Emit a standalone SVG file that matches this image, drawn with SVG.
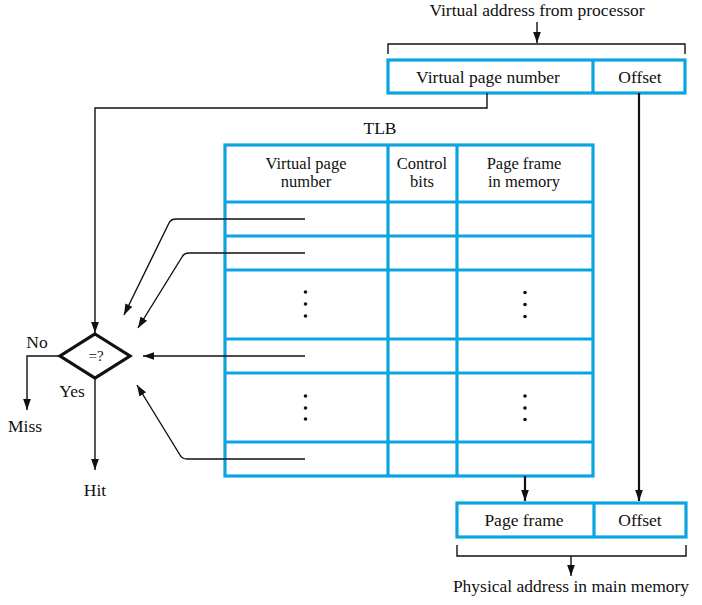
<svg xmlns="http://www.w3.org/2000/svg" width="702" height="605" viewBox="0 0 702 605">
<style>
text{font-family:"Liberation Serif","Times New Roman",serif;font-size:17.5px;fill:#111;text-anchor:middle}
.h{font-size:16.5px}
.b{fill:#fff;stroke:#0aa5e0;stroke-width:3.2}
.bl{stroke:#0aa5e0;stroke-width:3.2;fill:none}
.c{stroke:#111;stroke-width:1.4;fill:none}
.ca{stroke:#111;stroke-width:1.4;fill:none;marker-end:url(#ah)}
.ct{stroke:#111;stroke-width:2.2;fill:none;marker-end:url(#ah)}
.d{fill:#111}
</style>
<defs>
<marker id="ah" viewBox="0 0 10 10" refX="10" refY="5" markerWidth="11" markerHeight="11" markerUnits="userSpaceOnUse" orient="auto">
<path d="M0,1.5 L10,5 L0,8.5 Z" fill="#111"/>
</marker>
</defs>
<g id="virtual-address">
<text x="537" y="16">Virtual address from processor</text>
<path class="c" d="M388,54 V44 H685 V54"/>
<rect class="b" x="388" y="60" width="297" height="33"/>
<line class="bl" x1="593" y1="60" x2="593" y2="93"/>
<text x="488" y="83">Virtual page number</text>
<text x="640" y="83">Offset</text>
</g>
<g id="tlb">
<text x="380" y="134">TLB</text>
<rect class="b" x="225" y="145" width="368" height="331"/>
<path class="bl" d="M225,202 H593 M225,236 H593 M225,270 H593 M225,339 H593 M225,373 H593 M225,442 H593 M388,145 V476 M457,145 V476"/>
<text class="h" x="306" y="169">Virtual page</text>
<text class="h" x="306" y="187">number</text>
<text class="h" x="422" y="169">Control</text>
<text class="h" x="422" y="187">bits</text>
<text class="h" x="524" y="169">Page frame</text>
<text class="h" x="524" y="187">in memory</text>
<circle class="d" cx="305.5" cy="292" r="1.8"/><circle class="d" cx="305.5" cy="304" r="1.8"/><circle class="d" cx="305.5" cy="316" r="1.8"/>
<circle class="d" cx="525" cy="292.5" r="1.8"/><circle class="d" cx="525" cy="304.5" r="1.8"/><circle class="d" cx="525" cy="316.5" r="1.8"/>
<circle class="d" cx="305.5" cy="396" r="1.8"/><circle class="d" cx="305.5" cy="408" r="1.8"/><circle class="d" cx="305.5" cy="419" r="1.8"/>
<circle class="d" cx="525" cy="396" r="1.8"/><circle class="d" cx="525" cy="408" r="1.8"/><circle class="d" cx="525" cy="419.5" r="1.8"/>
</g>
<g id="compare">
<polygon points="95,334 130,356 95,378 60,356" fill="#fff" stroke="#111" stroke-width="3.2"/>
<text x="96" y="361" style="font-size:15px">=?</text>
<text x="37" y="348">No</text>
<text x="72" y="397">Yes</text>
<text x="25" y="432">Miss</text>
<text x="95" y="496">Hit</text>
</g>
<g id="physical-address">
<rect class="b" x="457" y="503" width="229" height="34"/>
<line class="bl" x1="594" y1="503" x2="594" y2="537"/>
<text x="524" y="526">Page frame</text>
<text x="640" y="526">Offset</text>
<path class="c" d="M457,545 V556 H686 V545"/>
<text x="571" y="592">Physical address in main memory</text>
</g>
<g id="connectors">
<line class="ca" x1="537" y1="22" x2="537" y2="43"/>
<path class="ca" d="M487,93 V108 H95 V333"/>
<line class="ct" x1="639" y1="93" x2="639" y2="501"/>
<line class="ct" x1="525" y1="476" x2="525" y2="501"/>
<line class="ca" x1="571" y1="556" x2="571" y2="576"/>
<path class="ca" d="M305,219 H176 Q171,219 169,223 L124,315"/>
<path class="ca" d="M305,253 H189 Q184,253 182,257 L138,328"/>
<line class="ca" x1="305" y1="356" x2="143" y2="356"/>
<path class="ca" d="M305,459 H187 Q182,459 180,455 L137,385"/>
<path class="ca" d="M60,356 H27 V410"/>
<line class="ca" x1="95" y1="378" x2="95" y2="470"/>
</g>
</svg>
